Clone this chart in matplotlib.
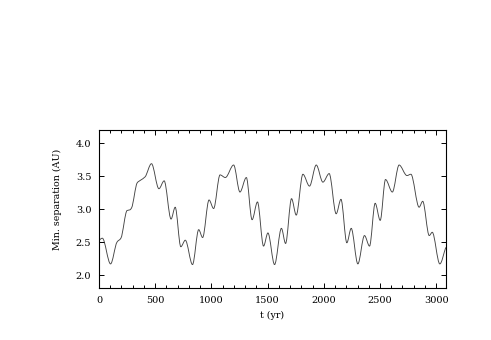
import numpy as np
import matplotlib
matplotlib.use("Agg")
import matplotlib.pyplot as plt
from matplotlib.path import Path
from matplotlib.patches import PathPatch
from matplotlib.ticker import MultipleLocator

# values (time in yr, min. separation in AU)
t_yr = [0, 30, 103, 160, 195, 250, 275, 290, 340, 370, 410, 467, 533, 580,
        641, 678, 728, 768, 832, 887, 922, 979, 1020, 1077, 1124, 1198, 1254,
        1311, 1362, 1410, 1464, 1503, 1562, 1623, 1660, 1713, 1755, 1814,
        1873, 1933, 1992, 2048, 2110, 2153, 2205, 2244, 2303, 2362, 2407,
        2457, 2502, 2549, 2610, 2670, 2740, 2775, 2848, 2880, 2938, 2965,
        3032, 3085]
sep_au = [2.53, 2.56, 2.17, 2.50, 2.56, 2.98, 2.99, 3.02, 3.40, 3.44, 3.49,
          3.69, 3.31, 3.43, 2.85, 3.03, 2.43, 2.53, 2.16, 2.69, 2.57, 3.14,
          3.01, 3.52, 3.48, 3.67, 3.26, 3.48, 2.84, 3.11, 2.44, 2.64, 2.16,
          2.71, 2.48, 3.16, 2.91, 3.53, 3.35, 3.67, 3.41, 3.54, 2.93, 3.15,
          2.49, 2.71, 2.17, 2.60, 2.44, 3.09, 2.83, 3.45, 3.26, 3.67, 3.51,
          3.53, 3.03, 3.12, 2.60, 2.65, 2.17, 2.42]

x_ticks = [0, 500, 1000, 1500, 2000, 2500, 3000]
y_ticks = [2.0, 2.5, 3.0, 3.5, 4.0]

plt.rcParams["font.family"] = ["DejaVu Serif"]

fig = plt.figure(figsize=(4.91, 3.40), dpi=100)
ax = fig.add_axes([0.2016, 0.152, 0.7067, 0.4655])


# smooth curve through the read points (monotone cubic bezier segments)
def smooth_path(xs, ys):
    xs = np.asarray(xs, float)
    ys = np.asarray(ys, float)
    d = np.diff(ys) / np.diff(xs)
    m = np.zeros_like(ys)
    m[0], m[-1] = d[0], d[-1]
    for i in range(1, len(ys) - 1):
        if d[i - 1] * d[i] > 0:
            m[i] = 2 / (1 / d[i - 1] + 1 / d[i])
    verts = [(xs[0], ys[0])]
    codes = [Path.MOVETO]
    for i in range(len(xs) - 1):
        h = xs[i + 1] - xs[i]
        verts += [(xs[i] + h / 3, ys[i] + m[i] * h / 3),
                  (xs[i + 1] - h / 3, ys[i + 1] - m[i + 1] * h / 3),
                  (xs[i + 1], ys[i + 1])]
        codes += [Path.CURVE4] * 3
    return Path(verts, codes)


ax.add_patch(PathPatch(smooth_path(t_yr, sep_au), fill=False,
                       edgecolor="#444444", lw=0.65, clip_on=True))

ax.set_xlim(0, 3087)
ax.set_ylim(1.8, 4.2)
ax.set_xticks(x_ticks)
ax.set_yticks(y_ticks)
ax.set_yticklabels([f"{v:.1f}" for v in y_ticks])
ax.xaxis.set_minor_locator(MultipleLocator(100))

ax.tick_params(which="both", direction="in", top=True, right=True,
               labelsize=7, width=0.7, pad=5.5)
ax.tick_params(which="major", length=3.5)
ax.tick_params(which="minor", length=2)
for s in ax.spines.values():
    s.set_linewidth(0.8)

ax.set_xlabel("t (yr)", fontsize=6.8)
ax.set_ylabel("Min. separation (AU)", fontsize=6.8)
ax.xaxis.set_label_coords(0.5, -0.14)
ax.yaxis.set_label_coords(-0.107, 0.564)

fig.savefig("out.png", dpi=100)
